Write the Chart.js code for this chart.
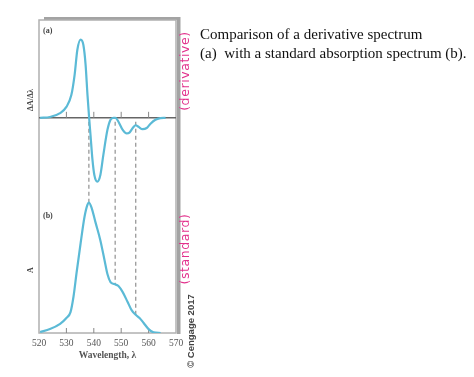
<!DOCTYPE html>
<html>
<head>
<meta charset="utf-8">
<script src="https://cdn.jsdelivr.net/npm/chart.js@4"></script>
<style>
  html, body { margin: 0; padding: 0; background: #fff; }
  #wrap { position: relative; width: 474px; height: 377px; overflow: hidden; }
  #wrap canvas { position: absolute; left: 0; top: 0; }
  .t { position: absolute; white-space: nowrap; }
  .rot { transform-origin: center center; transform: translate(-50%, -50%) rotate(-90deg); }
  .caption { font-family: "Liberation Serif", "DejaVu Serif", serif; font-size: 15px; color: #111; left: 200px; line-height: 19px; }
  .hand { font-family: "DejaVu Sans", sans-serif; font-size: 12.5px; color: #e2318c; letter-spacing: 0.6px; }
  .copy { font-family: "Liberation Sans", Arial, sans-serif; font-size: 9.5px; font-weight: bold; color: #444; }
  .lab { font-family: "Liberation Serif", serif; font-size: 8px; font-weight: bold; color: #444; }
</style>
</head>
<body>
<div id="wrap">
  <canvas id="c" width="474" height="377"></canvas>
  <div class="t caption" style="top:25px;">Comparison of a derivative spectrum</div>
  <div class="t caption" style="top:44px;">(a)&nbsp; with a standard absorption spectrum (b).</div>
  <div class="t hand rot" style="left:184px; top:71px;">(derivative)</div>
  <div class="t hand rot" style="left:184px; top:249px;">(standard)</div>
  <div class="t copy rot" style="left:190px; top:331px;">© Cengage 2017</div>
  <div class="t lab" style="left:43px; top:26px;">(a)</div>
  <div class="t lab" style="left:43px; top:211px;">(b)</div>
  <div class="t lab rot" style="left:30px; top:100px;">ΔA/Δλ</div>
  <div class="t lab rot" style="left:30px; top:270px;">A</div>
</div>
<script>
// ---- data ----
const wavelengthTicks = [520, 530, 540, 550, 560, 570];

const derivWl  = [520.4, 524, 527.7, 530, 531.8, 533, 534, 535.2, 536.2, 537, 537.7, 538.3, 538.8, 539.5, 540.2, 541.3, 542.4, 543.5, 545, 546.1, 547.2, 547.9, 549, 550.5, 552, 553, 554.2, 555.3, 556.3, 557.8, 559.3, 560.7, 562.5, 564.3, 566.2];
const derivVal = [0, 0.01, 0.06, 0.14, 0.29, 0.55, 0.87, 1.0, 0.93, 0.68, 0.29, 0, -0.22, -0.53, -0.73, -0.815, -0.73, -0.47, -0.15, -0.025, 0, 0, -0.05, -0.15, -0.2, -0.19, -0.13, -0.095, -0.115, -0.145, -0.13, -0.075, -0.025, -0.005, 0];

const absWl  = [520.4, 524, 527.7, 530, 531.5, 532.6, 533.7, 535.2, 536.6, 537.7, 538.2, 539.2, 540.6, 542.4, 543.9, 545, 546.1, 547.5, 549, 550.5, 552.3, 553.8, 555.3, 556.7, 558.2, 560, 561.8, 564.4];
const absVal = [0.008, 0.03, 0.07, 0.115, 0.16, 0.28, 0.46, 0.69, 0.89, 0.985, 1.0, 0.96, 0.85, 0.71, 0.56, 0.45, 0.39, 0.375, 0.36, 0.315, 0.24, 0.175, 0.14, 0.115, 0.077, 0.03, 0.005, 0];

const markerWl  = [538.2, 547.8, 555.3];
const markerAbs = [1.0, 0.375, 0.14];

// ---- drawing ----
const curveColor = '#5bbad6';

const framePlugin = {
  id: 'frame',
  beforeDatasetsDraw(chart) {
    const { ctx, chartArea: a, scales } = chart;
    const x = scales.x, yD = scales.yD, yA = scales.yA;
    ctx.save();
    // shadow
    ctx.fillStyle = '#a3a3a3';
    ctx.fillRect(a.left + 5, a.top - 3, a.right - a.left - 1, 3);
    ctx.fillRect(a.right + 1, a.top - 3, 3.5, a.bottom - a.top + 4);
    // box
    ctx.strokeStyle = '#b0b0b0';
    ctx.lineWidth = 1.5;
    ctx.strokeRect(a.left, a.top, a.right - a.left, a.bottom - a.top);
    // zero line of derivative
    const y0 = yD.getPixelForValue(0);
    ctx.strokeStyle = '#666';
    ctx.lineWidth = 1.4;
    ctx.beginPath();
    ctx.moveTo(a.left, y0);
    ctx.lineTo(a.right, y0);
    ctx.stroke();
    // inner ticks
    ctx.lineWidth = 1;
    ctx.strokeStyle = '#888';
    wavelengthTicks.slice(1, -1).forEach(v => {
      const px = x.getPixelForValue(v);
      ctx.beginPath();
      ctx.moveTo(px, y0);
      ctx.lineTo(px, y0 - 6);
      ctx.moveTo(px, a.bottom);
      ctx.lineTo(px, a.bottom - 5);
      ctx.stroke();
    });
    // dashed connector lines
    ctx.strokeStyle = '#999';
    ctx.lineWidth = 1.3;
    ctx.setLineDash([4, 3]);
    markerWl.forEach((w, i) => {
      const px = x.getPixelForValue(w);
      ctx.beginPath();
      ctx.moveTo(px, y0 + 4);
      ctx.lineTo(px, yA.getPixelForValue(markerAbs[i]));
      ctx.stroke();
    });
    ctx.restore();
  }
};

const toXY = (xs, ys) => xs.map((v, i) => ({ x: v, y: ys[i] }));

new Chart(document.getElementById('c'), {
  type: 'line',
  data: {
    datasets: [
      { label: 'Derivative (a)', data: toXY(derivWl, derivVal), yAxisID: 'yD',
        borderColor: curveColor, borderWidth: 2.2, pointRadius: 0, cubicInterpolationMode: 'monotone' },
      { label: 'Absorbance (b)', data: toXY(absWl, absVal), yAxisID: 'yA',
        borderColor: curveColor, borderWidth: 2.2, pointRadius: 0, cubicInterpolationMode: 'monotone' }
    ]
  },
  options: {
    responsive: false,
    animation: false,
    layout: { padding: { left: 39, right: 298, top: 20, bottom: 0 } },
    plugins: { legend: { display: false }, tooltip: { enabled: false } },
    scales: {
      x: {
        type: 'linear', min: 520, max: 570,
        afterBuildTicks: s => { s.ticks = wavelengthTicks.map(v => ({ value: v })); },
        afterFit: s => { s.height = 44; },
        grid: { display: false, drawTicks: false },
        border: { display: false },
        ticks: { padding: 5, color: '#555', font: { family: 'Liberation Serif', size: 9.5 }, maxRotation: 0 },
        title: { display: true, text: 'Wavelength, λ', color: '#555',
                 font: { family: 'Liberation Serif', size: 9.5, weight: 'bold' }, padding: { top: 0, bottom: 16 } }
      },
      yD: { display: false, min: -2.75, max: 1.25 },
      yA: { display: false, min: 0, max: 2.4 }
    }
  },
  plugins: [framePlugin]
});
</script>
</body>
</html>
